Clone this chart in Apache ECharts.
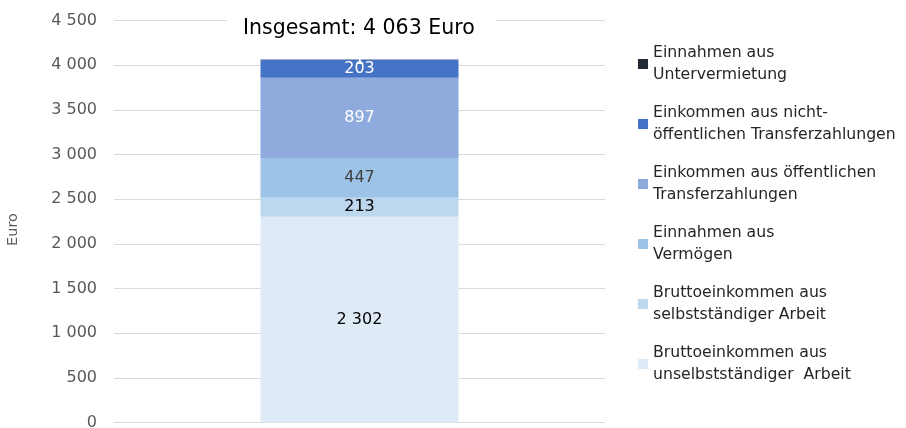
<!DOCTYPE html>
<html>
<head>
<meta charset="utf-8">
<script src="https://cdn.jsdelivr.net/npm/echarts@6/dist/echarts.min.js"></script>
<style>
  html, body { margin: 0; padding: 0; background: #fff; }
  #chart { width: 906px; height: 428px; }
</style>
</head>
<body>
<div id="chart"></div>
<script>
// Einkommen nach Quellen (Euro), Stapel von unten nach oben
var categories = ['Haushalt'];
var seriesNames = [
    'Bruttoeinkommen aus unselbstständiger Arbeit',
    'Bruttoeinkommen aus selbstständiger Arbeit',
    'Einnahmen aus Vermögen',
    'Einkommen aus öffentlichen Transferzahlungen',
    'Einkommen aus nicht-öffentlichen Transferzahlungen',
    'Einnahmen aus Untervermietung'
];
// Legendentexte mit Zeilenumbruch wie im Original
var legendLabels = [
    'Bruttoeinkommen aus\nunselbstständiger  Arbeit',
    'Bruttoeinkommen aus\nselbstständiger Arbeit',
    'Einnahmen aus\nVermögen',
    'Einkommen aus öffentlichen\nTransferzahlungen',
    'Einkommen aus nicht-\nöffentlichen Transferzahlungen',
    'Einnahmen aus\nUntervermietung'
];
var values = [2302, 213, 447, 897, 203, 1];
var colors = ['#DEEBF7', '#BDD7EE', '#9DC3E6', '#8FAADC', '#4472C4', '#222A35'];
var labelColors = ['#000000', '#000000', '#404040', '#ffffff', '#ffffff', '#ffffff'];
var totalText = 'Insgesamt: 4 063 Euro';
var yMax = 4500;
var yStep = 500;

var FONT = '"DejaVu Sans", "Open Sans", sans-serif';

//Tausender mit Leerzeichen
function fmt(v) {
    return String(v).replace(/\B(?=(\d{3})+(?!\d))/g, ' ');
}

var series = [];
for (var i = 0; i < values.length; i++) {
    series.push({
        name: seriesNames[i],
        type: 'bar',
        stack: 'total',
        barWidth: 198,
        data: [values[i]],
        itemStyle: {color: colors[i]},
        label: {
            show: true,
            position: 'inside',
            color: labelColors[i],
            fontFamily: FONT,
            fontSize: 16,
            formatter: function (p) { return fmt(p.value); }
        }
    });
}

var chart = echarts.init(document.getElementById('chart'));
var option = {
    animation: false,
    backgroundColor: '#ffffff',
    title: {
        text: totalText,
        left: 227,
        top: 12,
        padding: [6, 22, 6, 16],
        backgroundColor: '#ffffff',
        textStyle: {
            color: '#000000',
            fontFamily: FONT,
            fontSize: 20.5,
            fontWeight: 'normal'
        }
    },
    legend: {
        orient: 'vertical',
        left: 633,
        top: 26,
        itemWidth: 10,
        itemHeight: 10,
        itemGap: -6,
        icon: 'rect',
        data: seriesNames.slice().reverse(),
        formatter: function (name) {
            return legendLabels[seriesNames.indexOf(name)];
        },
        textStyle: {
            color: '#262626',
            fontFamily: FONT,
            fontSize: 15.7,
            lineHeight: 22,
            padding: [22, 0, 0, 0]
        }
    },
    grid: {
        left: 114,
        right: 301,
        top: 20.5,
        bottom: 5.5,
        outerBoundsMode: 'none'
    },
    xAxis: {
        type: 'category',
        data: categories,
        axisLine: {show: false},
        axisTick: {show: false},
        axisLabel: {show: false}
    },
    yAxis: {
        type: 'value',
        min: 0,
        max: yMax,
        interval: yStep,
        name: 'Euro',
        nameLocation: 'middle',
        nameRotate: 90,
        nameGap: 93,
        nameTextStyle: {
            color: '#595959',
            fontFamily: FONT,
            fontSize: 14.5,
            padding: [0, 16, 0, 0]
        },
        axisLine: {show: false},
        axisTick: {show: false},
        axisLabel: {
            margin: 17,
            color: '#595959',
            fontFamily: FONT,
            fontSize: 16,
            formatter: fmt
        },
        splitLine: {
            lineStyle: {color: '#d9d9d9', width: 1}
        }
    },
    series: series
};
chart.setOption(option);
</script>
</body>
</html>
